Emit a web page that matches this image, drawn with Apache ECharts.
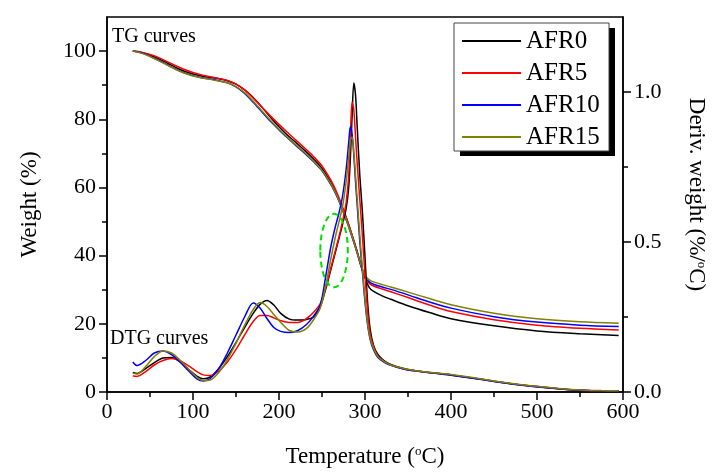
<!DOCTYPE html>
<html>
<head>
<meta charset="utf-8">
<script src="https://cdn.jsdelivr.net/npm/echarts@6/dist/echarts.min.js"></script>
<style>
  html, body { margin: 0; padding: 0; background: #fff; }
  #chart { width: 717px; height: 473px; }
</style>
</head>
<body>
<div id="chart"></div>
<script>
// sample names and colours
var names = ['AFR0', 'AFR5', 'AFR10', 'AFR15'];
var colors = ['#000000', '#ff0000', '#0000ff', '#808000'];

// TG curves (weight %, left axis)
var tgT = [30, 40, 50, 60, 70, 80, 90, 100, 110, 120, 130, 140, 150, 160, 170, 180, 190, 200, 210, 220,
  230, 240, 250, 260, 265, 270, 275, 280, 285, 290, 295, 300, 305, 310, 320, 330, 350, 375, 400, 450,
  500, 550, 595];
var tgAFR0 = [100, 99.6, 98.8, 97.8, 96.5, 95.2, 94.1, 93.3, 92.7, 92.3, 91.9, 91.3, 90.3, 88.6, 86.4, 83.6, 80.6, 77.8, 75.3, 73.1,
  70.8, 68.4, 65.6, 61.6, 59.2, 56.4, 53.2, 49.8, 46, 42, 37.5, 33.5, 30.6, 29.5, 28.2, 27.2, 25.3, 23.3, 21.5, 19.4,
  17.9, 17.1, 16.6];
var tgAFR5 = [100, 99.7, 99, 98.1, 96.9, 95.7, 94.6, 93.7, 93, 92.5, 92, 91.4, 90.3, 88.6, 86.2, 83.6, 81, 78.5, 76.1, 73.8,
  71.5, 69.1, 66.3, 62.3, 59.8, 56.8, 53.4, 49.9, 46, 41.8, 37.4, 33.6, 31.8, 31.1, 30.2, 29.4, 27.7, 25.5, 23.6, 21.2,
  19.6, 18.7, 18.2];
var tgAFR10 = [100, 99.5, 98.5, 97.3, 96, 94.7, 93.6, 92.8, 92.2, 91.8, 91.3, 90.7, 89.5, 87.6, 85, 82.2, 79.4, 76.9, 74.5, 72.2,
  70, 67.6, 64.9, 61, 58.6, 55.8, 52.6, 49.2, 45.4, 41.5, 37.2, 33.8, 32.3, 31.6, 30.8, 30.1, 28.5, 26.4, 24.6, 22.1,
  20.5, 19.6, 19.2];
var tgAFR15 = [100, 99.4, 98.4, 97.2, 95.9, 94.6, 93.5, 92.7, 92.1, 91.7, 91.2, 90.7, 89.6, 87.8, 85.3, 82.5, 79.7, 77.1, 74.7, 72.4,
  70.2, 67.8, 65, 61.2, 58.8, 56, 52.8, 49.3, 45.6, 41.6, 37.5, 34.2, 32.9, 32.3, 31.5, 30.8, 29.3, 27.4, 25.6, 23.1,
  21.5, 20.6, 20.2];

// DTG curves (%/oC, right axis)
var dtgT = [30, 35, 45, 55, 65, 75, 85, 95, 105, 112, 120, 130, 140, 150, 160, 170, 178, 186, 194, 202,
  212, 222, 232, 240, 248, 254, 260, 265, 270, 274, 278, 281, 283, 285, 287, 289, 291, 294, 297, 300,
  303, 306, 310, 315, 322, 330, 345, 360, 380, 400, 425, 450, 475, 500, 525, 550, 575, 595];
var dtgAFR0 = [0.065, 0.062, 0.078, 0.098, 0.113, 0.115, 0.1, 0.075, 0.052, 0.044, 0.05, 0.078, 0.118, 0.165, 0.215, 0.262, 0.292, 0.305, 0.29, 0.262,
  0.243, 0.24, 0.242, 0.25, 0.285, 0.34, 0.405, 0.46, 0.515, 0.56, 0.61, 0.68, 0.78, 0.92, 1.03, 0.99, 0.88, 0.72, 0.6, 0.45,
  0.3, 0.21, 0.155, 0.125, 0.105, 0.092, 0.078, 0.07, 0.063, 0.057, 0.047, 0.036, 0.026, 0.018, 0.011, 0.006, 0.004, 0.003];
var dtgAFR5 = [0.053, 0.052, 0.068, 0.09, 0.105, 0.112, 0.104, 0.087, 0.067, 0.057, 0.055, 0.07, 0.1, 0.142, 0.19, 0.235, 0.255, 0.255, 0.247, 0.238,
  0.232, 0.232, 0.245, 0.265, 0.295, 0.345, 0.41, 0.465, 0.52, 0.57, 0.63, 0.72, 0.85, 0.967, 0.94, 0.85, 0.76, 0.64, 0.52, 0.39,
  0.27, 0.195, 0.15, 0.12, 0.102, 0.09, 0.077, 0.07, 0.063, 0.057, 0.047, 0.036, 0.026, 0.018, 0.011, 0.006, 0.004, 0.003];
var dtgAFR10 = [0.1, 0.088, 0.105, 0.13, 0.137, 0.125, 0.1, 0.07, 0.043, 0.037, 0.045, 0.078, 0.13, 0.19, 0.25, 0.297, 0.28, 0.245, 0.215, 0.202,
  0.198, 0.205, 0.225, 0.252, 0.29, 0.38, 0.48, 0.545, 0.6, 0.655, 0.74, 0.83, 0.885, 0.86, 0.79, 0.7, 0.62, 0.5, 0.4, 0.3,
  0.225, 0.175, 0.14, 0.115, 0.1, 0.089, 0.077, 0.07, 0.063, 0.056, 0.046, 0.035, 0.025, 0.017, 0.011, 0.006, 0.004, 0.003];
var dtgAFR15 = [0.063, 0.06, 0.085, 0.118, 0.137, 0.13, 0.106, 0.076, 0.048, 0.038, 0.04, 0.065, 0.108, 0.163, 0.222, 0.275, 0.298, 0.285, 0.258, 0.232,
  0.205, 0.2, 0.212, 0.24, 0.28, 0.35, 0.44, 0.51, 0.57, 0.62, 0.7, 0.78, 0.84, 0.85, 0.8, 0.72, 0.64, 0.52, 0.41, 0.31,
  0.23, 0.18, 0.145, 0.118, 0.102, 0.09, 0.078, 0.071, 0.064, 0.058, 0.048, 0.037, 0.027, 0.019, 0.012, 0.007, 0.005, 0.004];

// tick labels
var weightTicks = [0, 20, 40, 60, 80, 100];
var weightMinor = [10, 30, 50, 70, 90];
var derivTicks = [0, 0.5, 1.0];
var derivMinor = [0.25, 0.75];

// green dashed ellipse marking the shoulder (centre T, weight; radii in data units)
var shoulder = { t: 264, w: 41.5, rt: 16, rw: 10.8 };

var tgData = [tgAFR0, tgAFR5, tgAFR10, tgAFR15];
var dtgData = [dtgAFR0, dtgAFR5, dtgAFR10, dtgAFR15];

function zip(xs, ys) {
  return xs.map(function (x, i) { return [x, ys[i]]; });
}

var font = 'Liberation Serif';
var series = [];
names.forEach(function (n, i) {
  series.push({
    name: n, type: 'line', yAxisIndex: 0, data: zip(tgT, tgData[i]),
    showSymbol: false, smooth: 0.3, lineStyle: { color: colors[i], width: 1.5 }, itemStyle: { color: colors[i] }
  });
});
names.forEach(function (n, i) {
  series.push({
    name: n, type: 'line', yAxisIndex: 1, data: zip(dtgT, dtgData[i]),
    showSymbol: false, smooth: 0.3, lineStyle: { color: colors[i], width: 1.5 }, itemStyle: { color: colors[i] }
  });
});

// legend frame with hard black drop shadow
var legendBox = [
  { type: 'rect', z: 1, shape: { x: 460, y: 28, width: 155, height: 128 }, style: { fill: '#000' } },
  { type: 'rect', z: 2, shape: { x: 454, y: 23, width: 155, height: 128 }, style: { fill: '#fff', stroke: '#444', lineWidth: 1 } }
];
var notes = [
  { type: 'text', left: 112, top: 27, style: { text: 'TG curves', font: '20px "Liberation Serif"', fill: '#000' } },
  { type: 'text', left: 110, top: 329, style: { text: 'DTG curves', font: '20px "Liberation Serif"', fill: '#000' } }
];

var myChart = echarts.init(document.getElementById('chart'));
myChart.setOption({
  animation: false,
  backgroundColor: '#fff',
  textStyle: { fontFamily: font, color: '#000' },
  grid: { left: 107, right: 94, top: 17, bottom: 79, show: true, borderColor: '#000', borderWidth: 1.5 },
  legend: {
    orient: 'vertical', left: 454, top: 23, z: 10,
    data: names,
    icon: 'rect', itemWidth: 59, itemHeight: 2, itemGap: 6,
    padding: [5, 6, 2, 8],
    textStyle: { fontFamily: font, fontSize: 25, color: '#000', lineHeight: 26 }
  },
  xAxis: {
    type: 'value', min: 0, max: 600, interval: 100,
    name: 'Temperature ({sup|o}C)', nameLocation: 'middle', nameGap: 53,
    nameTextStyle: { fontFamily: font, fontSize: 23, color: '#000',
      rich: { sup: { fontFamily: font, fontSize: 13, verticalAlign: 'top', padding: [0, 0, 8, 0] } } },
    axisLine: { lineStyle: { color: '#000', width: 1.5 } },
    axisTick: { length: 8, lineStyle: { color: '#000', width: 1.5 } },
    minorTick: { show: true, splitNumber: 2, length: 5, lineStyle: { color: '#000', width: 1.5 } },
    axisLabel: { fontFamily: font, fontSize: 22, color: '#000', margin: 9 },
    splitLine: { show: false }
  },
  yAxis: [
    {
      type: 'value', position: 'left', min: 0, max: 110,
      name: 'Weight (%)', nameLocation: 'middle', nameGap: 66,
      nameTextStyle: { fontFamily: font, fontSize: 23, color: '#000' },
      axisLine: { show: true, lineStyle: { color: '#000', width: 1.5 } },
      axisTick: { show: true, length: 8, customValues: weightTicks, lineStyle: { color: '#000', width: 1.5 } },
      axisLabel: { fontFamily: font, fontSize: 22, color: '#000', margin: 11, customValues: weightTicks },
      splitLine: { show: false }
    },
    {
      type: 'value', position: 'right', min: 0, max: 1.25,
      name: 'Deriv. weight (%/{sup|o}C)', nameLocation: 'middle', nameGap: 62, nameRotate: -90,
      nameTextStyle: { fontFamily: font, fontSize: 23, color: '#000', padding: [0, 20, 0, 0],
        rich: { sup: { fontFamily: font, fontSize: 13, verticalAlign: 'top', padding: [0, 0, 8, 0] } } },
      axisLine: { show: true, lineStyle: { color: '#000', width: 1.5 } },
      axisTick: { show: true, length: 8, customValues: derivTicks, lineStyle: { color: '#000', width: 1.5 } },
      axisLabel: { fontFamily: font, fontSize: 22, color: '#000', margin: 11, customValues: derivTicks,
        formatter: function (v) { return v.toFixed(1); } },
      splitLine: { show: false }
    },
    {
      // minor ticks, left
      type: 'value', position: 'left', min: 0, max: 110,
      axisLine: { show: false },
      axisTick: { show: true, length: 5, customValues: weightMinor, lineStyle: { color: '#000', width: 1.5 } },
      axisLabel: { show: false },
      splitLine: { show: false }
    },
    {
      // minor ticks, right
      type: 'value', position: 'right', min: 0, max: 1.25,
      axisLine: { show: false },
      axisTick: { show: true, length: 5, customValues: derivMinor, lineStyle: { color: '#000', width: 1.5 } },
      axisLabel: { show: false },
      splitLine: { show: false }
    }
  ],
  graphic: legendBox.concat(notes),
  series: series
});

// ellipse annotation placed through the axis scales
var c = myChart.convertToPixel({ seriesIndex: 0 }, [shoulder.t, shoulder.w]);
var e = myChart.convertToPixel({ seriesIndex: 0 }, [shoulder.t + shoulder.rt, shoulder.w + shoulder.rw]);
myChart.setOption({
  graphic: legendBox.concat(notes).concat([
    {
      type: 'ellipse', z: 100,
      shape: { cx: c[0], cy: c[1], rx: Math.abs(e[0] - c[0]), ry: Math.abs(c[1] - e[1]) },
      style: { fill: 'none', stroke: '#00e000', lineWidth: 2, lineDash: [6, 4] }
    }
  ])
});
</script>
</body>
</html>
